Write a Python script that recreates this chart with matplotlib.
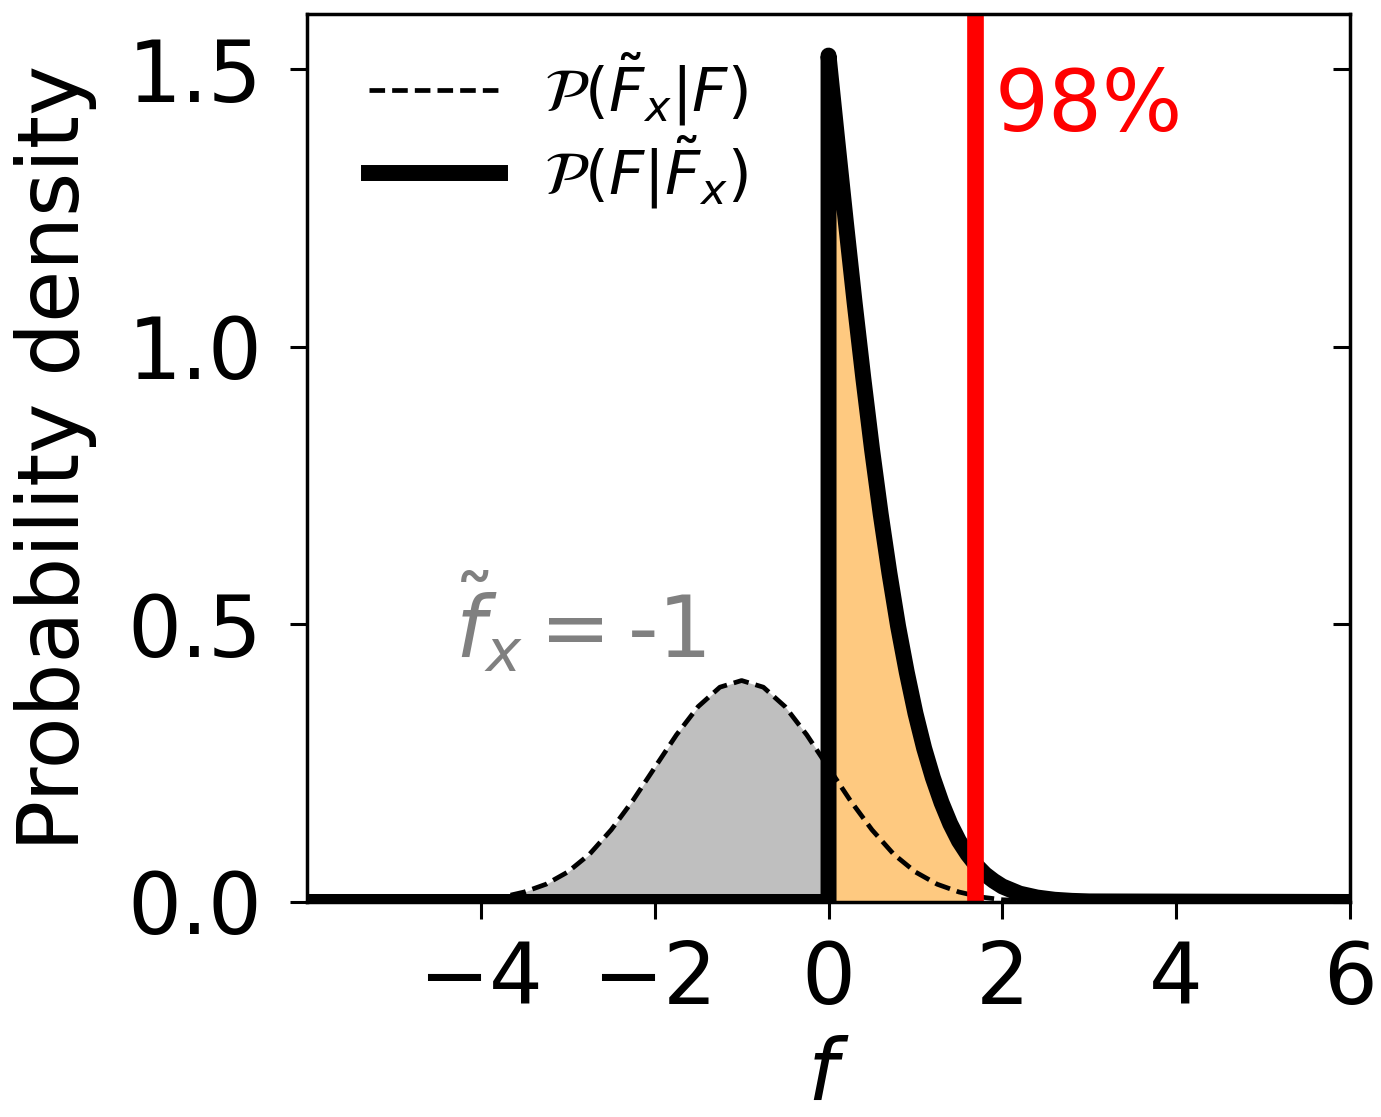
import numpy as np
import matplotlib
matplotlib.use("Agg")
import matplotlib.pyplot as plt

# likelihood P(F~x | F)
dash_x = np.array([-6.0, -4.5, -4.0, -3.75, -3.5, -3.25, -3.0, -2.75, -2.5, -2.25,
                   -2.0, -1.75, -1.5, -1.25, -1.0, -0.75, -0.5, -0.25, 0.0,
                   0.25, 0.5, 0.75, 1.0, 1.25, 1.5, 1.75, 2.0, 2.5, 6.0])
dash_y = np.array([0.0, 0.001, 0.004, 0.009, 0.018, 0.032, 0.054, 0.086, 0.130, 0.183,
                   0.242, 0.301, 0.352, 0.387, 0.399, 0.387, 0.352, 0.301, 0.242,
                   0.183, 0.130, 0.086, 0.054, 0.032, 0.018, 0.009, 0.004, 0.001, 0.0])

# posterior P(F | F~x), zero for f < 0
post_x = np.array([0.0, 0.0, 0.1, 0.2, 0.3, 0.4, 0.5, 0.6, 0.7, 0.8, 0.9, 1.0,
                   1.1, 1.2, 1.3, 1.4, 1.5, 1.6, 1.7, 1.8, 1.9, 2.0,
                   2.2, 2.4, 2.6, 2.8, 3.0, 6.0])
post_y = np.array([0.0, 1.525, 1.373, 1.224, 1.080, 0.944, 0.816, 0.699, 0.593, 0.497,
                   0.414, 0.340, 0.277, 0.224, 0.179, 0.141, 0.110, 0.086, 0.066,
                   0.050, 0.038, 0.028, 0.015, 0.008, 0.004, 0.002, 0.001, 0.0])

obs = -1          # observed f~x
q98 = 1.69        # 98% credible bound
x_ticks = [-4, -2, 0, 2, 4, 6]
y_ticks = [0.0, 0.5, 1.0, 1.5]

fs = 61
plt.rcParams['font.size'] = fs

fig = plt.figure(figsize=(13.81, 11.17), dpi=100)
ax = fig.add_axes([0.2223, 0.1925, 0.9776 - 0.2223, 0.9875 - 0.1925])

neg = dash_x <= 0
ax.fill_between(dash_x[neg], dash_y[neg], color='#bfbfbf', lw=0)
pos = (post_x >= 0) & (post_x <= q98 + 0.02)
ax.fill_between(post_x[pos][1:], post_y[pos][1:], color='#fec980', lw=0)

ax.plot(dash_x, dash_y, color='k', ls=(0, (3.3, 1.5)), lw=3.4,
        label=r'$\mathcal{P}(\tilde{F}_x|F)$')
ax.plot(np.r_[-6.0, post_x], np.r_[0.0, post_y], 'k-', lw=11.5,
        label=r'$\mathcal{P}(F|\tilde{F}_x)$')
ax.axvline(q98, color='red', lw=12)

ax.text(q98 + 0.22, 1.39, '98%', color='red', fontsize=fs)
ax.text(-4.3, 0.44, r'$\tilde{f}_x = $' + '-%d' % abs(obs), color='gray', fontsize=fs)

ax.set_xlim(-6, 6)
ax.set_ylim(0, 1.6)
ax.set_xticks(x_ticks)
ax.set_yticks(y_ticks)
ax.set_xlabel(r'$f$', labelpad=9)
ax.set_ylabel('Probability density', labelpad=22)
ax.tick_params(direction='out', length=12, width=2.2, top=False, right=False)
ax.tick_params(axis='x', pad=15)
ax.tick_params(axis='y', pad=20)
for s in ax.spines.values():
    s.set_linewidth(2.5)

# right side ticks point inwards
twin = ax.twinx()
twin.set_ylim(0, 1.6)
twin.set_yticks(y_ticks)
twin.tick_params(direction='in', length=12, width=2.2, labelright=False)
for s in twin.spines.values():
    s.set_visible(False)

ax.legend(loc='upper left', bbox_to_anchor=(0.036, 0.987), frameon=False,
          fontsize=44, handlelength=2.15, handletextpad=0.72,
          borderaxespad=0, labelspacing=0.1)

fig.savefig('out.png', dpi=100)
